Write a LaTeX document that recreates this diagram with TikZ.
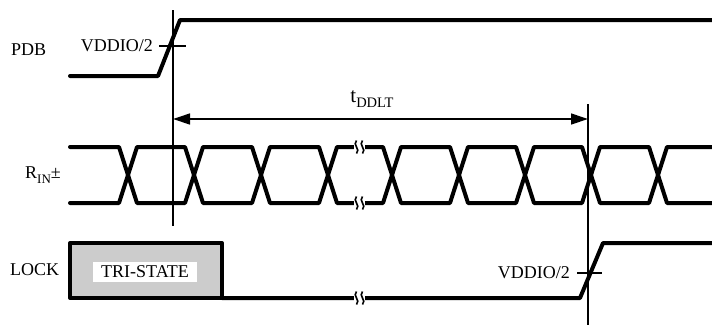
\documentclass[tikz,border=0pt]{standalone}
\usepackage{fontspec}
\setmainfont{Liberation Serif}
\usetikzlibrary{arrows.meta}
\begin{document}
\begin{tikzpicture}[x=1pt,y=-1pt,
  sig/.style={line width=4pt, line join=round, line cap=round},
  thinline/.style={line width=1.3pt},
  lbl/.style={font=\fontsize{18}{20}\selectfont, inner sep=0pt},
  gap/.style={fill=white, draw=none},
  wave/.style={line width=1.6pt},
  dim/.style={thinline, >={Triangle[length=17pt,width=11pt]}, <->}]
\useasboundingbox (0,0) rectangle (712,327);
% labels
\node[lbl, anchor=west] (pdb) at (11,50) {PDB};
\node[lbl, anchor=west] (rin) at (25,175) {R\raisebox{-0.55ex}{\fontsize{13}{13}\selectfont IN}±};
\node[lbl, anchor=west] (lock) at (10,270) {LOCK};
% PDB signal
\draw[sig] (70,76) -- (158,76) -- (180,20) -- (712,20);
% markers
\coordinate (m1top) at (173,10);
\coordinate (m1bot) at (173,226);
\coordinate (m2top) at (588,104);
\coordinate (m2bot) at (588,325);
\draw[thinline] (m1top) -- (m1bot);
\draw[thinline] (m2top) -- (m2bot);
% VDDIO/2 on PDB
\coordinate (tk1a) at (159,46);
\coordinate (tk1b) at (186,46);
\draw[thinline] (tk1a) -- (tk1b);
\node[lbl, anchor=east] (v1) at (153,46) {VDDIO/2};
% tDDLT arrow
\coordinate (a1) at (173,119);
\coordinate (a2) at (588,119);
\draw[dim] (a1) -- (a2);
\node[lbl, font=\fontsize{21}{22}\selectfont] (tddlt) at (372,99) {t\raisebox{-0.5ex}{\fontsize{14.5}{15}\selectfont DDLT}};
% data signal
\draw[sig] (70,147) -- (119,147) -- (137,203) -- (185,203) -- (203,147) -- (252,147) -- (270,203) -- (319,203) -- (337,147) -- (383,147) -- (401,203) -- (450,203) -- (468,147) -- (516,147) -- (534,203) -- (582,203) -- (600,147) -- (649,147) -- (667,203) -- (712,203);
\draw[sig] (70,203) -- (119,203) -- (137,147) -- (185,147) -- (203,203) -- (252,203) -- (270,147) -- (319,147) -- (337,203) -- (383,203) -- (401,147) -- (450,147) -- (468,203) -- (516,203) -- (534,147) -- (582,147) -- (600,203) -- (649,203) -- (667,147) -- (712,147);
% LOCK signal
\draw[sig, fill=black!20] (70,243) rectangle (222,298);
\node[lbl, fill=white, minimum width=104pt, minimum height=20pt] (tri) at (145,272) {TRI-STATE};
\draw[sig] (222,298) -- (580,298) -- (603,243) -- (712,243);
\coordinate (tk2a) at (577,273);
\coordinate (tk2b) at (602,273);
\draw[thinline] (tk2a) -- (tk2b);
\node[lbl, anchor=east] (v2) at (570,273) {VDDIO/2};
% breaks
\foreach \yy in {147,203,298} {
  \fill[gap] (354,\yy-8) rectangle (365,\yy+8);
  \foreach \xx in {356.5,362.5} {
    \draw[wave] (\xx,\yy-6.5) .. controls (\xx-4.5,\yy-2) and (\xx+4.5,\yy+2) .. (\xx,\yy+6.5);
  }
}
\end{tikzpicture}
\end{document}
